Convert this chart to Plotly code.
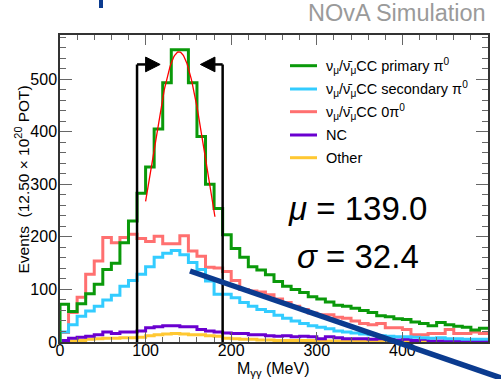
import math
import plotly.graph_objects as go

# ---- data: 10 MeV bins from 0 to 500 MeV ----
bin_edges = list(range(0, 510, 10))

cc_primary_pi0 = [72, 58, 73, 92, 110, 138, 150, 189, 230, 283,
                  333, 405, 493, 556, 556, 493, 391, 300, 254, 204,
                  178, 161, 143, 137, 128, 115, 106, 100, 94, 86,
                  82, 76, 70, 68, 64, 60, 56, 50, 48, 44,
                  43, 38, 35, 31, 37, 33, 30, 28, 23, 26]
cc_secondary_pi0 = [19, 33, 49, 59, 68, 80, 89, 106, 117, 129,
                    143, 161, 169, 174, 166, 151, 138, 116, 91, 91,
                    84, 75, 68, 62, 58, 51, 45, 40, 35, 31,
                    28, 25, 21, 19, 17, 15, 14, 12, 11, 10,
                    10, 9, 8, 7, 8, 6, 6, 5, 5, 5]
cc_zero_pi0 = [18, 56, 85, 129, 154, 199, 189, 199, 205, 197,
               191, 201, 187, 187, 202, 173, 163, 142, 141, 134,
               117, 100, 97, 95, 90, 82, 75, 68, 62, 55,
               52, 52, 47, 45, 40, 35, 33, 35, 27, 27,
               24, 14, 14, 16, 16, 24, 16, 16, 19, 16]
nc = [3, 7, 9, 11, 14, 19, 16, 19, 19, 21,
      27, 29, 31, 31, 29, 29, 24, 21, 19, 17,
      16, 16, 14, 14, 12, 11, 12, 10, 11, 10,
      6, 10, 8, 6, 6, 6, 5, 6, 5, 4,
      5, 3, 5, 2, 2, 3, 2, 2, 2, 2]
other = [1, 2, 3, 5, 6, 7, 7, 8, 8, 9,
         12, 14, 15, 16, 15, 14, 14, 12, 11, 7,
         6, 5, 5, 4, 4, 3, 3, 3, 3, 3,
         3, 2, 2, 2, 2, 2, 2, 2, 2, 2,
         1, 1, 1, 1, 1, 1, 1, 1, 1, 1]

# Gaussian fit to the primary-pi0 peak
FIT_MU = 139.0
FIT_SIGMA = 32.4
FIT_AMP = 552.0
FIT_RANGE = (100.0, 181.0)

# selection window
WINDOW_LO, WINDOW_HI = 90, 190
WINDOW_MARK_Y = 528

x_ticks = [0, 100, 200, 300, 400, 500]
y_ticks = [0, 100, 200, 300, 400, 500]

series = [
    ("Other", other, "#ffc832", "Other"),
    ("NC", nc, "#6a00d0", "NC"),
    ("0pi0", cc_zero_pi0, "#ff7070", "ν<sub>μ</sub>/ν̄<sub>μ</sub>CC 0π<sup>0</sup>"),
    ("secondary", cc_secondary_pi0, "#33ccff", "ν<sub>μ</sub>/ν̄<sub>μ</sub>CC secondary π<sup>0</sup>"),
    ("primary", cc_primary_pi0, "#0a990a", "ν<sub>μ</sub>/ν̄<sub>μ</sub>CC primary π<sup>0</sup>"),
]
legend_order = ["primary", "secondary", "0pi0", "NC", "Other"]

# plot-area geometry in pixels
W, H = 501, 379
L, R, T, B = 60, 488, 35, 342


def pxx(x):
    return (x - L) / (R - L)


def pxy(y):
    return (B - y) / (B - T)


fig = go.Figure()

for key, vals, color, label in series:
    xs = [bin_edges[0]] + bin_edges
    ys = [0] + vals + [vals[-1]]
    fig.add_trace(go.Scatter(x=xs, y=ys, mode="lines", line_shape="hv",
                             line=dict(color=color, width=3), name=key,
                             showlegend=False, hoverinfo="skip"))

# fit curve
n = 120
fx = [FIT_RANGE[0] + (FIT_RANGE[1] - FIT_RANGE[0]) * i / n for i in range(n + 1)]
fy = [FIT_AMP * math.exp(-0.5 * ((x - FIT_MU) / FIT_SIGMA) ** 2) for x in fx]
fig.add_trace(go.Scatter(x=fx, y=fy, mode="lines", line=dict(color="#ff0000", width=1.3),
                         showlegend=False, hoverinfo="skip"))

shapes = []
# window lines with arrows pointing inward
for xv in (WINDOW_LO, WINDOW_HI):
    shapes.append(dict(type="line", xref="x", yref="y", x0=xv, x1=xv, y0=0, y1=WINDOW_MARK_Y,
                       line=dict(color="black", width=2.5)))
shapes.append(dict(type="line", xref="x", yref="y", x0=WINDOW_LO, x1=WINDOW_LO + 10,
                   y0=WINDOW_MARK_Y, y1=WINDOW_MARK_Y, line=dict(color="black", width=2.5)))
shapes.append(dict(type="line", xref="x", yref="y", x0=WINDOW_HI, x1=WINDOW_HI - 9,
                   y0=WINDOW_MARK_Y, y1=WINDOW_MARK_Y, line=dict(color="black", width=2.5)))
hh = 14
shapes.append(dict(type="path", xref="x", yref="y", fillcolor="black", line=dict(color="black", width=1),
                   path=f"M {WINDOW_LO + 10},{WINDOW_MARK_Y - hh} L {WINDOW_LO + 27},{WINDOW_MARK_Y} "
                        f"L {WINDOW_LO + 10},{WINDOW_MARK_Y + hh} Z"))
shapes.append(dict(type="path", xref="x", yref="y", fillcolor="black", line=dict(color="black", width=1),
                   path=f"M {WINDOW_HI - 9},{WINDOW_MARK_Y - hh} L {WINDOW_HI - 26},{WINDOW_MARK_Y} "
                        f"L {WINDOW_HI - 9},{WINDOW_MARK_Y + hh} Z"))

# legend drawn by hand
annotations = []
row_y = [65.7, 89, 111.7, 135, 157.7]
lookup = {k: (c, lab) for k, _, c, lab in series}
for k, yy in zip(legend_order, row_y):
    c, lab = lookup[k]
    shapes.append(dict(type="line", xref="paper", yref="paper", x0=pxx(290), x1=pxx(317),
                       y0=pxy(yy), y1=pxy(yy), line=dict(color=c, width=3)))
    annotations.append(dict(xref="paper", yref="paper", x=pxx(324), y=pxy(yy), text=lab,
                            showarrow=False, xanchor="left", yanchor="middle",
                            font=dict(size=14.5, color="black")))

# thick navy pointer line
shapes.append(dict(type="line", xref="paper", yref="paper", x0=pxx(190), y0=pxy(271),
                   x1=pxx(530), y1=pxy(388), line=dict(color="#0b3b8f", width=5.5)))
shapes.append(dict(type="line", xref="paper", yref="paper", x0=pxx(101), y0=pxy(-5),
                   x1=pxx(101), y1=pxy(8), line=dict(color="#0b3b8f", width=4)))

annotations += [
    dict(xref="paper", yref="paper", x=pxx(488), y=pxy(13), text="NOvA Simulation",
         showarrow=False, xanchor="right", yanchor="middle",
         font=dict(size=23.5, color="#9a9a9a")),
    dict(xref="paper", yref="paper", x=pxx(357), y=pxy(208), text="<i>μ</i> = 139.0",
         showarrow=False, xanchor="center", yanchor="middle", font=dict(size=33, color="black")),
    dict(xref="paper", yref="paper", x=pxx(358), y=pxy(256), text="<i>σ</i> = 32.4",
         showarrow=False, xanchor="center", yanchor="middle", font=dict(size=33, color="black")),
    dict(xref="paper", yref="paper", x=pxx(22.5), y=pxy(180),
         text="Events  (12.50 × 10<sup>20</sup> POT)", textangle=-90,
         showarrow=False, xanchor="center", yanchor="middle", font=dict(size=15.5, color="black")),
    dict(xref="paper", yref="paper", x=pxx(273), y=pxy(369),
         text="M<sub>γγ</sub> (MeV)",
         showarrow=False, xanchor="center", yanchor="middle", font=dict(size=16, color="black")),
]

axis_common = dict(showgrid=False, zeroline=False, showline=True, mirror="ticks",
                   linecolor="#333333", linewidth=1.5, ticks="inside", tickcolor="#666666",
                   tickwidth=1, tickfont=dict(size=16, color="black"))

fig.update_layout(
    width=W, height=H,
    margin=dict(l=L, r=W - R, t=T, b=H - B, autoexpand=False),
    paper_bgcolor="white", plot_bgcolor="white",
    font=dict(family="Liberation Sans, Arial, sans-serif", color="black"),
    shapes=shapes, annotations=annotations,
    xaxis=dict(range=[0, 500], tickvals=x_ticks, ticklen=10, ticklabelstandoff=-7,
               minor=dict(dtick=20, ticklen=5, ticks="inside", tickcolor="#666666"),
               **axis_common),
    yaxis=dict(range=[0, 584], tickvals=y_ticks, ticklen=12, ticklabelstandoff=-2,
               minor=dict(dtick=20, ticklen=6, ticks="inside", tickcolor="#666666"),
               **axis_common),
)

fig.write_html("out.html")
